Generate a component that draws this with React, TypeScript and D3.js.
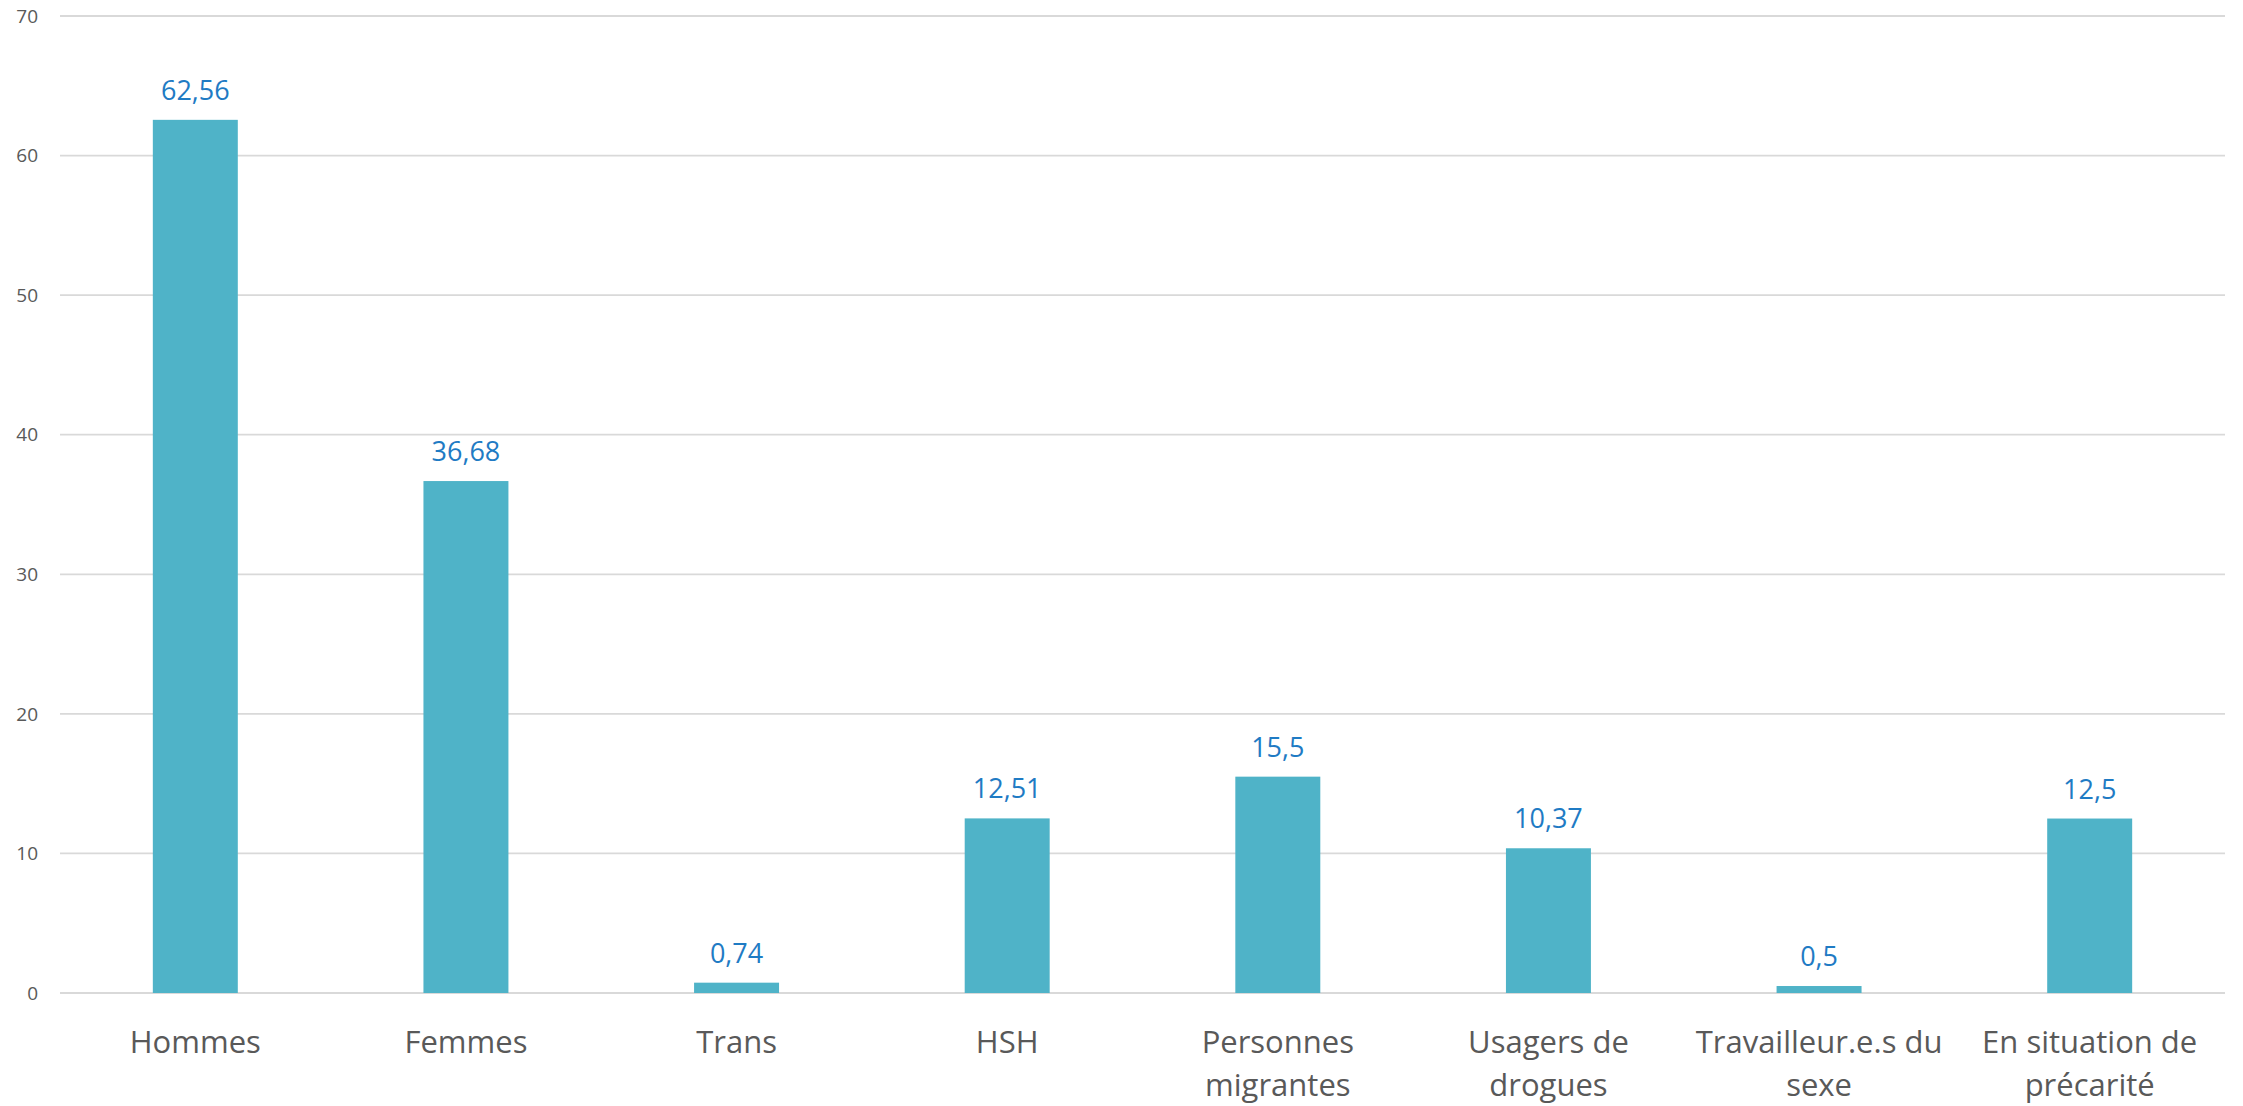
import React from "react";
import * as d3 from "d3";

const categories = [
  ["Hommes"],
  ["Femmes"],
  ["Trans"],
  ["HSH"],
  ["Personnes", "migrantes"],
  ["Usagers de", "drogues"],
  ["Travailleur.e.s du", "sexe"],
  ["En situation de", "précarité"],
];
const values = [62.56, 36.68, 0.74, 12.51, 15.5, 10.37, 0.5, 12.5];
const valueLabels = ["62,56", "36,68", "0,74", "12,51", "15,5", "10,37", "0,5", "12,5"];
const yTicks = [0, 10, 20, 30, 40, 50, 60, 70];

const width = 2243;
const height = 1106;
const margin = { top: 16, right: 18, bottom: 113, left: 60 };

const font = "'Open Sans', sans-serif";

const App = () => {
  const x = d3
    .scaleBand()
    .domain(categories.map((d, i) => String(i)))
    .range([margin.left, width - margin.right])
    .paddingInner(0.686)
    .paddingOuter(0.343);

  const y = d3
    .scaleLinear()
    .domain([0, 70])
    .range([height - margin.bottom, margin.top]);

  return (
    <svg
      width={width}
      height={height}
      style={{ position: "absolute", left: 0, top: 0, background: "#fff" }}
    >
      {/* grid */}
      {yTicks.map((t) => (
        <g key={t}>
          <line
            x1={margin.left}
            x2={width - margin.right}
            y1={y(t)}
            y2={y(t)}
            stroke="#d9d9d9"
            strokeWidth={1.8}
          />
          <text
            x={38}
            y={y(t)}
            dy="0.35em"
            textAnchor="end"
            fontFamily={font}
            fontSize={19}
            fill="#595959"
          >
            {t}
          </text>
        </g>
      ))}

      {/* bars */}
      {values.map((v, i) => (
        <g key={i}>
          <rect
            x={x(String(i))}
            y={y(v)}
            width={x.bandwidth()}
            height={y(0) - y(v)}
            fill="#4fb3c8"
          />
          <text
            x={(x(String(i)) as number) + x.bandwidth() / 2}
            y={y(v) - 20}
            textAnchor="middle"
            fontFamily={font}
            fontSize={27}
            fill="#1f7bc4"
          >
            {valueLabels[i]}
          </text>
        </g>
      ))}

      {/* category labels */}
      {categories.map((lines, i) => (
        <text
          key={i}
          x={(x(String(i)) as number) + x.bandwidth() / 2}
          y={1053}
          textAnchor="middle"
          fontFamily={font}
          fontSize={31}
          fill="#595959"
        >
          {lines.map((l, j) => (
            <tspan key={j} x={(x(String(i)) as number) + x.bandwidth() / 2} dy={j === 0 ? 0 : 43}>
              {l}
            </tspan>
          ))}
        </text>
      ))}
    </svg>
  );
};

export default App;
